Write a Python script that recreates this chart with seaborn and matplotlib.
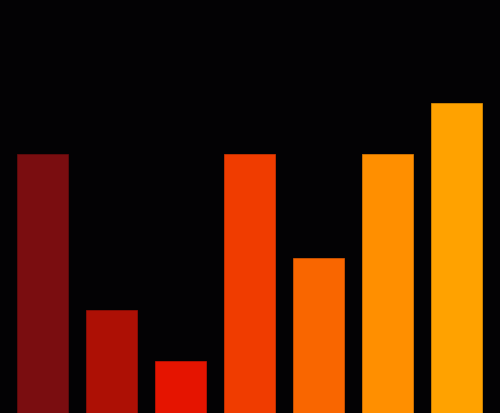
import matplotlib
matplotlib.use("Agg")
import matplotlib.pyplot as plt
import seaborn as sns
import pandas as pd

categories = ["A", "B", "C", "D", "E", "F", "G"]
values = [5, 2, 1, 5, 3, 5, 6]
colors = ["#7a0d10", "#ad1005", "#e51400", "#f03c00", "#f96600", "#ff8f00", "#ffa200"]
edges = ["#6a0a0c", "#9a0c04", "#cc1200", "#d83600", "#e05c00", "#e88000", "#e89300"]

df = pd.DataFrame({"cat": categories, "val": values})

fig = plt.figure(figsize=(5.0, 4.14), dpi=100)
fig.patch.set_facecolor("#030204")
ax = fig.add_axes([0, 0, 1, 1])
ax.set_facecolor("#030204")
sns.barplot(data=df, x="cat", y="val", hue="cat", palette=colors, width=0.74,
            legend=False, ax=ax, saturation=1)
for p, ec in zip(ax.patches, edges):
    p.set_edgecolor(ec)
    p.set_linewidth(0.5)
ax.set_xlim(-0.622, 6.625)
ax.set_ylim(0, 8)
ax.axis("off")
fig.savefig("out.png", dpi=100, facecolor=fig.get_facecolor())
